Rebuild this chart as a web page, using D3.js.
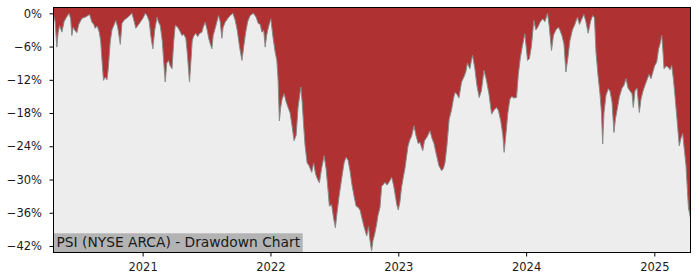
<!DOCTYPE html>
<html>
<head>
  <meta charset="utf-8">
  <title>PSI drawdown chart</title>
  <script src="https://cdn.jsdelivr.net/npm/d3@7"></script>
  <style>
    body { margin: 0; background: #fff; }
    svg text { font-family: "DejaVu Sans", sans-serif; fill: #1a1a1a; }
  </style>
</head>
<body>

<svg id="chart" width="700" height="280"></svg>

<script type="text/javascript">

// dates as decimal years
var yearPoints = [
  2020.305, 2020.318, 2020.331, 2020.341, 2020.353, 2020.370, 2020.388, 2020.404, 2020.427, 2020.439,
  2020.448, 2020.459, 2020.470, 2020.487, 2020.502, 2020.527, 2020.552, 2020.568, 2020.586, 2020.605,
  2020.619, 2020.630, 2020.646, 2020.662, 2020.673, 2020.685, 2020.695, 2020.709, 2020.722, 2020.732,
  2020.748, 2020.761, 2020.779, 2020.791, 2020.806, 2020.826, 2020.839, 2020.857, 2020.880, 2020.904,
  2020.917, 2020.935, 2020.947, 2020.963, 2020.982, 2021.005, 2021.021, 2021.037, 2021.052, 2021.064,
  2021.080, 2021.095, 2021.113, 2021.125, 2021.138, 2021.154, 2021.166, 2021.177, 2021.189, 2021.203,
  2021.216, 2021.230, 2021.244, 2021.255, 2021.271, 2021.287, 2021.308, 2021.322, 2021.338, 2021.349,
  2021.359, 2021.367, 2021.377, 2021.388, 2021.398, 2021.416, 2021.431, 2021.447, 2021.464, 2021.474,
  2021.490, 2021.505, 2021.517, 2021.529, 2021.542, 2021.552, 2021.568, 2021.594, 2021.607, 2021.620,
  2021.630, 2021.646, 2021.670, 2021.685, 2021.706, 2021.724, 2021.740, 2021.758, 2021.777, 2021.791,
  2021.806, 2021.822, 2021.841, 2021.867, 2021.888, 2021.904, 2021.920, 2021.933, 2021.947, 2021.959,
  2021.970, 2021.984, 2022.003, 2022.021, 2022.037, 2022.050, 2022.060, 2022.070, 2022.080, 2022.091,
  2022.107, 2022.123, 2022.138, 2022.154, 2022.170, 2022.185, 2022.201, 2022.216, 2022.238, 2022.248,
  2022.259, 2022.271, 2022.287, 2022.302, 2022.323, 2022.338, 2022.353, 2022.369, 2022.383, 2022.400,
  2022.420, 2022.435, 2022.447, 2022.461, 2022.478, 2022.494, 2022.508, 2022.521, 2022.537, 2022.556,
  2022.576, 2022.591, 2022.607, 2022.623, 2022.638, 2022.654, 2022.670, 2022.685, 2022.701, 2022.716,
  2022.732, 2022.753, 2022.767, 2022.779, 2022.791, 2022.802, 2022.814, 2022.831, 2022.841, 2022.857,
  2022.870, 2022.883, 2022.896, 2022.912, 2022.927, 2022.948, 2022.963, 2022.974, 2022.988, 2023.000,
  2023.013, 2023.025, 2023.039, 2023.052, 2023.064, 2023.076, 2023.088, 2023.105, 2023.123, 2023.138,
  2023.156, 2023.170, 2023.191, 2023.205, 2023.220, 2023.232, 2023.248, 2023.263, 2023.279, 2023.298,
  2023.318, 2023.339, 2023.353, 2023.365, 2023.380, 2023.398, 2023.416, 2023.431, 2023.443, 2023.459,
  2023.474, 2023.495, 2023.513, 2023.529, 2023.541, 2023.560, 2023.572, 2023.581, 2023.599, 2023.615,
  2023.633, 2023.650, 2023.670, 2023.689, 2023.709, 2023.730, 2023.748, 2023.767, 2023.783, 2023.802,
  2023.818, 2023.828, 2023.841, 2023.857, 2023.873, 2023.888, 2023.904, 2023.925, 2023.939, 2023.955,
  2023.970, 2023.990, 2024.000, 2024.011, 2024.025, 2024.041, 2024.060, 2024.076, 2024.091, 2024.111,
  2024.130, 2024.146, 2024.167, 2024.181, 2024.198, 2024.213, 2024.232, 2024.252, 2024.263, 2024.279,
  2024.295, 2024.310, 2024.326, 2024.341, 2024.361, 2024.380, 2024.400, 2024.416, 2024.435, 2024.451,
  2024.466, 2024.484, 2024.502, 2024.519, 2024.533, 2024.545, 2024.560, 2024.576, 2024.588, 2024.597,
  2024.607, 2024.623, 2024.641, 2024.654, 2024.670, 2024.685, 2024.697, 2024.709, 2024.728, 2024.748,
  2024.763, 2024.779, 2024.795, 2024.810, 2024.826, 2024.836, 2024.849, 2024.865, 2024.883, 2024.896,
  2024.912, 2024.927, 2024.943, 2024.959, 2024.974, 2024.990, 2025.002, 2025.019, 2025.033, 2025.045,
  2025.058, 2025.068, 2025.076, 2025.095, 2025.111, 2025.123, 2025.136, 2025.150, 2025.162, 2025.177,
  2025.195, 2025.209, 2025.222, 2025.232, 2025.248, 2025.259, 2025.267, 2025.283
];

// drawdown in percent, same order as yearPoints
var drawdown = [
  -0.3, -1.5, -6.1, -3.5, -2.2, -3.4, -1.5, -0.8, 0, -1.0,
  -4.0, -2.5, -3.0, -3.5, -2.0, -0.9, -0.7, -0.5, -0.2, -1.6,
  -2.0, -2.7, -2.3, -3.4, -5.0, -9.0, -12.1, -11.5, -12.0, -10.0,
  -5.0, -3.0, -2.0, -1.3, -2.5, -5.6, -1.8, -1.2, -0.8, -0.3,
  0, -1.5, -2.7, -2.2, -1.6, -0.8, 0, -0.5, -1.5, -4.0,
  -6.4, -3.0, -0.7, -1.6, -2.2, -5.0, -9.0, -12.4, -9.0, -8.5,
  -9.5, -10.0, -5.0, -2.2, -2.4, -3.0, -4.0, -3.8, -4.5, -7.0,
  -10.0, -12.4, -9.0, -5.0, -4.2, -3.6, -4.2, -3.6, -3.4, -2.5,
  -1.6, -3.0, -4.5, -5.5, -6.4, -4.0, -2.7, -0.4, -1.5, -4.5,
  -2.5, -1.6, -0.8, -0.4, 0, -1.2, -3.0, -6.0, -8.5, -6.0,
  -3.5, -1.5, -0.4, 0, -0.7, -1.8, -2.0, -3.4, -3.0, -6.1,
  -4.0, -2.5, -1.0, -4.5, -7.0, -8.5, -12.0, -19.4, -17.0, -15.5,
  -14.5, -16.0, -17.0, -18.0, -20.5, -23.0, -22.0, -17.0, -13.3, -16.0,
  -20.0, -23.9, -27.0, -27.5, -28.7, -27.0, -29.0, -30.0, -30.6, -28.0,
  -25.7, -28.0, -31.0, -34.8, -34.5, -37.0, -38.7, -36.0, -33.0, -30.0,
  -27.0, -26.0, -26.5, -28.5, -31.0, -33.0, -34.8, -35.0, -35.5, -37.0,
  -38.5, -40.2, -38.5, -41.0, -42.9, -41.0, -40.0, -38.0, -36.5, -35.0,
  -31.2, -30.9, -30.5, -31.0, -30.5, -29.6, -31.0, -32.5, -34.5, -35.5,
  -34.0, -31.5, -29.6, -28.0, -26.0, -24.0, -23.0, -22.1, -20.3, -22.0,
  -23.5, -23.3, -24.8, -23.0, -22.5, -22.0, -21.2, -22.5, -23.5, -25.5,
  -27.5, -28.4, -28.0, -27.0, -24.0, -19.1, -17.5, -15.5, -14.3, -14.6,
  -15.3, -12.4, -11.5, -10.5, -9.0, -10.0, -8.5, -7.6, -10.0, -13.0,
  -15.2, -14.0, -10.3, -12.0, -14.5, -18.2, -17.5, -17.0, -17.5, -19.5,
  -22.0, -25.1, -22.0, -18.0, -15.5, -15.0, -15.3, -15.2, -11.0, -8.0,
  -6.0, -3.7, -6.0, -8.5, -8.2, -6.0, -1.3, -3.0, -2.5, -1.5,
  -1.0, -1.5, 0, -2.5, -6.7, -4.0, -3.0, -2.5, -3.0, -4.0,
  -5.5, -10.6, -8.0, -5.0, -3.0, -2.0, -0.7, -2.0, -1.0, -0.2,
  -1.5, -3.6, -1.5, -0.4, -0.8, -7.0, -11.0, -14.5, -18.0, -23.6,
  -18.0, -14.8, -13.6, -14.0, -16.0, -21.5, -19.0, -17.5, -15.0, -13.5,
  -13.0, -11.8, -13.5, -14.0, -14.5, -17.0, -14.0, -13.5, -17.9, -15.5,
  -14.0, -13.0, -12.0, -11.0, -11.8, -10.5, -9.5, -8.8, -6.5, -5.5,
  -4.0, -7.0, -10.0, -9.5, -9.8, -10.2, -9.4, -12.0, -15.0, -19.0,
  -23.9, -22.5, -21.7, -24.0, -27.5, -32.0, -35.1, -37.0
];

var yTickValues = [0, -6, -12, -18, -24, -30, -36, -42];
var xTickYears = [2021, 2022, 2023, 2024, 2025];
var chartLabel = "PSI (NYSE ARCA) - Drawdown Chart";

// decimal year -> Date
function toDate(t) {
  var y0 = Math.floor(t);
  var start = Date.UTC(y0, 0, 1), end = Date.UTC(y0 + 1, 0, 1);
  return new Date(start + (t - y0) * (end - start));
}

var points = yearPoints.map(function (t, i) {
  return { date: toDate(t), value: drawdown[i] };
});

// plot box (note: "top" is a reserved window global, so plotTop etc.)
var plotLeft = 53.5, plotRight = 690.5, plotTop = 7.5, plotBottom = 252.5;

var x = d3.scaleUtc()
  .domain([toDate(2020.305), toDate(2025.283)])
  .range([plotLeft, plotRight]);

var y = d3.scaleLinear()
  .domain([-43.17, 1.05])
  .range([plotBottom, plotTop]);

var svg = d3.select("#chart");

/* plot background */
svg.append("rect")
  .attr("x", plotLeft).attr("y", plotTop)
  .attr("width", plotRight - plotLeft).attr("height", plotBottom - plotTop)
  .attr("fill", "#ededed");

/* red drawdown fill from the top of the plot down to the curve */
var area = d3.area()
  .x(function (d) { return x(d.date); })
  .y0(plotTop)
  .y1(function (d) { return y(d.value); });

svg.append("path")
  .datum(points)
  .attr("d", area)
  .attr("fill", "#b03131");

var line = d3.line()
  .x(function (d) { return x(d.date); })
  .y(function (d) { return y(d.value); });

svg.append("path")
  .datum(points)
  .attr("d", line)
  .attr("fill", "none")
  .attr("stroke", "#8a8a8a")
  .attr("stroke-width", 1);

/* label box at bottom left */
svg.append("rect")
  .attr("x", plotLeft).attr("y", 233.3)
  .attr("width", 302.7 - plotLeft).attr("height", plotBottom - 233.3)
  .attr("fill", "#b3b3b3");

svg.append("text")
  .attr("x", 56.5).attr("y", 247.3)
  .style("font-size", "13.8px")
  .text(chartLabel);

/* axes */
var yAxis = d3.axisLeft(y)
  .tickValues(yTickValues)
  .tickSize(4)
  .tickPadding(7.5)
  .tickFormat(function (d) { return (d < 0 ? "\u2212" + Math.abs(d) : d) + "%"; });

var xAxis = d3.axisBottom(x)
  .tickValues(xTickYears.map(function (yr) { return new Date(Date.UTC(yr, 0, 1)); }))
  .tickSize(4)
  .tickPadding(6.5)
  .tickFormat(d3.utcFormat("%Y"));

var gy = svg.append("g").attr("transform", "translate(" + plotLeft + ",0)").call(yAxis);
var gx = svg.append("g").attr("transform", "translate(0," + plotBottom + ")").call(xAxis);

[gy, gx].forEach(function (g) {
  g.select(".domain").remove();
  g.selectAll("line").attr("stroke", "#000");
  g.selectAll("text")
    .style("font-family", "'DejaVu Sans', sans-serif")
    .style("font-size", "11.5px")
    .attr("fill", "#1a1a1a");
});

/* frame */
svg.append("rect")
  .attr("x", plotLeft).attr("y", plotTop)
  .attr("width", plotRight - plotLeft).attr("height", plotBottom - plotTop)
  .attr("fill", "none")
  .attr("stroke", "#000")
  .attr("stroke-width", 1);

</script>
</body>
</html>
